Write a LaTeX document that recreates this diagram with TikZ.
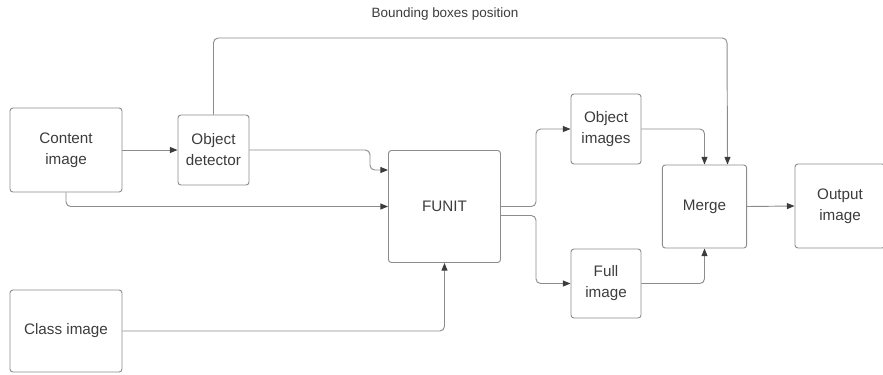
\documentclass[tikz,border=0pt]{standalone}
\usepackage{fontspec}
\setmainfont{Liberation Sans}
\usetikzlibrary{arrows.meta}
\definecolor{linegray}{HTML}{8C8C8C}
\definecolor{textgray}{HTML}{3C3C3C}

\begin{document}
\begin{tikzpicture}[x=0.3mm,y=-0.3mm,
        block/.style={draw=linegray,line width=0.8pt,rounded corners=2.5pt,align=center,text=textgray,inner sep=0pt,font=\fontsize{13}{18}\selectfont},
        link/.style={draw=linegray,line width=0.8pt,rounded corners=4pt,-{Triangle[length=2.3mm,width=1.8mm,color=textgray]}}]

    \useasboundingbox (0,0) rectangle (883,374);
    \clip (0,0) rectangle (883,374);

    % boxes
    \node[block,minimum width=33.6mm,minimum height=25.2mm] (content) at (66,150) {Content\\image};
    \node[block,minimum width=21.3mm,minimum height=21mm] (detect) at (213.5,150) {Object\\detector};
    \node[block,minimum width=33.6mm,minimum height=33.6mm] (funit) at (444.5,206.5) {FUNIT};
    \node[block,minimum width=21mm,minimum height=21mm] (objimg) at (606,129) {Object\\images};
    \node[block,minimum width=21mm,minimum height=20.7mm] (fullimg) at (606,283.5) {Full\\image};
    \node[block,minimum width=25.3mm,minimum height=24.9mm] (merge) at (704.5,206.5) {Merge};
    \node[block,minimum width=27mm,minimum height=25.2mm] (output) at (840,206) {Output\\image};
    \node[block,minimum width=33.6mm,minimum height=24.6mm] (class) at (66,331) {Class image};
    \node[text=textgray,font=\fontsize{11.5}{13}\selectfont] (bblabel) at (445,14) {Bounding boxes position};

    % connectors
    \draw[link] (content.east) -- (detect.west);
    \draw[link] (detect.east) -| (370,170) -- (funit.west |- 370,170);
    \draw[link] (content.south) |- (funit.west);
    \draw[link] (class.east) -| (funit.south);
    \draw[link] (funit.east) -- ++(35,0) |- (objimg.west);
    \draw[link] ([yshift=-2.7mm]funit.east) -- ++(35,0) |- (fullimg.west);
    \draw[link] (objimg.east) -| (merge.north);
    \draw[link] (detect.north) |- (727,38) -- ([xshift=6.9mm]merge.north);
    \draw[link] (fullimg.east) -| (merge.south);
    \draw[link] (merge.east) -- (output.west);
\end{tikzpicture}
\end{document}
